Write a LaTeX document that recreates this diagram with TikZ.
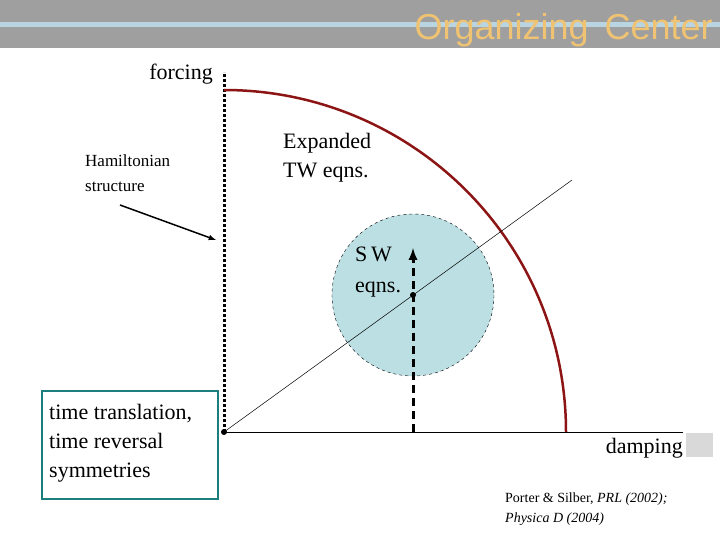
\documentclass[tikz,border=0pt]{standalone}
\usepackage{fontspec}
\setmainfont{Liberation Serif}
\newfontfamily\titlefont{Liberation Sans}
\begin{document}
\begin{tikzpicture}[x=1pt,y=-1pt,
  lbl/.style={inner sep=0pt,align=left}]
\useasboundingbox (0,0) rectangle (720,540);
\fill[gray!75] (0,0) rectangle (720,48);
\fill[cyan!25!white!75!gray] (0,22) rectangle (720,27);
\node[anchor=base east,inner sep=0pt,text={rgb,255:red,240;green,195;blue,115},font=\titlefont\fontsize{36}{38}\selectfont] (title) at (713,40) {Organizing\, Center};
\coordinate (O) at (224,432);
\coordinate (F) at (224,72);
\coordinate (D) at (683,432);
\coordinate (S) at (413,295);
\draw[line width=3pt,dotted] (O) -- (F);
\draw[thin] (O) -- (D);
\draw[line width=2.5pt,color={rgb,255:red,140;green,20;blue,20}] (224,90) arc[start angle=-90,end angle=0,radius=342];
\draw[dashed,fill={rgb,255:red,188;green,223;blue,227}] (S) circle[radius=81];
\draw[line width=0.5pt] (O) -- (572,180);
\draw[line width=3pt,dash pattern=on 8pt off 5pt,-latex] (413,432) -- (413,248);
\fill (S) circle[radius=3];
\fill (O) circle[radius=3];
\node[lbl,anchor=base east,font=\fontsize{22}{26}\selectfont] (forcing) at (213,80) {forcing};
\node[lbl,font=\fontsize{17}{25}\selectfont,anchor=north west] (ham) at (85,155) {Hamiltonian\\structure};
\coordinate (hs) at (120,205);
\draw[line width=1.5pt,-latex] (hs) -- (216,240);
\node[lbl,anchor=north west,font=\fontsize{22}{29}\selectfont] (tw) at (283,133) {Expanded\\TW eqns.};
\node[lbl,anchor=north west,font=\fontsize{22}{31}\selectfont] (sw) at (355,247) {S\,W\\eqns.};
\node[draw={rgb,255:red,30;green,125;blue,125},line width=2pt,minimum width=176pt,minimum height=108pt,anchor=north west] (box) at (41,390) {};
\node[lbl,anchor=north west,font=\fontsize{22}{29}\selectfont] (sym) at (49,404) {time translation,\\time reversal\\symmetries};
\node[lbl,anchor=base east,font=\fontsize{22}{26}\selectfont] (damp) at (683,453) {damping};
\fill[gray!30] (686,433) rectangle (713,457);
\node[lbl,font=\fontsize{14}{20}\selectfont,anchor=north west] (cite) at (505,493) {Porter \& Silber, \textit{PRL (2002);}\\\textit{Physica D (2004)}};
\end{tikzpicture}
\end{document}
